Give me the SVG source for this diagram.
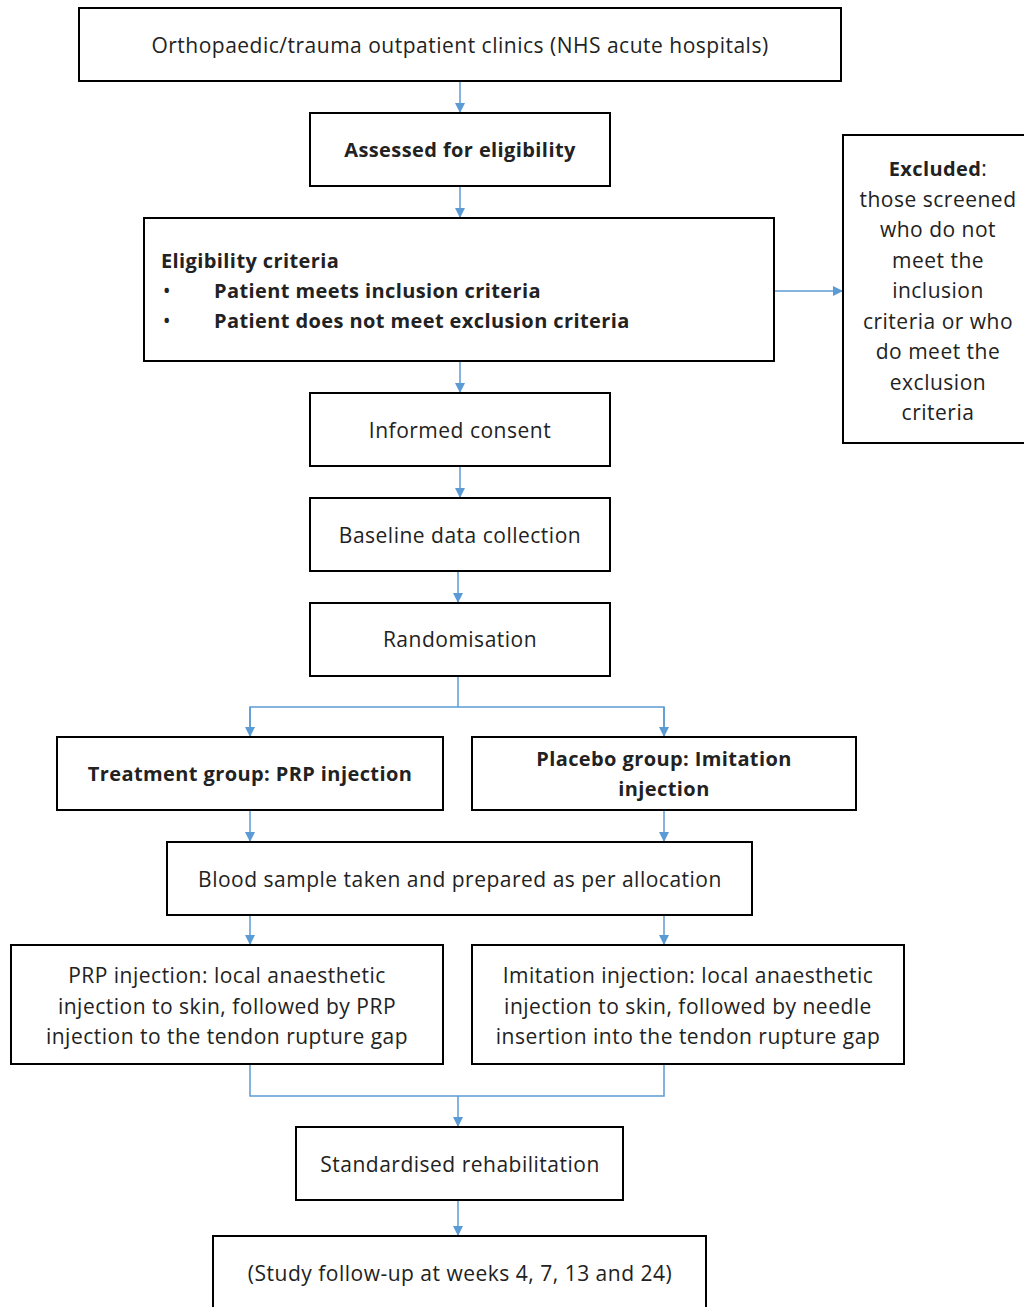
<svg xmlns="http://www.w3.org/2000/svg" width="1024" height="1307" viewBox="0 0 1024 1307">
<style>
.box{fill:#fff;stroke:#000;stroke-width:2}
.t{font-family:"Open Sans","Liberation Sans",sans-serif;font-size:21px;letter-spacing:0.5px;fill:#222;text-anchor:middle}
.b{font-weight:bold;font-size:20px;letter-spacing:0.4px}
.c{fill:none;stroke:#5b9bd5;stroke-width:1.5}
</style>
<defs>
<marker id="ah" markerWidth="10" markerHeight="10" refX="9" refY="5" orient="auto" markerUnits="userSpaceOnUse">
<path d="M0,0 L10,5 L0,10 z" fill="#5b9bd5"/>
</marker>
</defs>
<rect width="1024" height="1307" fill="#fff"/>
<g id="connectors">
<line class="c" x1="460" y1="81" x2="460" y2="112" marker-end="url(#ah)"/>
<line class="c" x1="460" y1="186" x2="460" y2="217" marker-end="url(#ah)"/>
<line class="c" x1="774" y1="291" x2="842" y2="291" marker-end="url(#ah)"/>
<line class="c" x1="460" y1="361" x2="460" y2="392" marker-end="url(#ah)"/>
<line class="c" x1="460" y1="466" x2="460" y2="497" marker-end="url(#ah)"/>
<line class="c" x1="458" y1="571" x2="458" y2="602" marker-end="url(#ah)"/>
<polyline class="c" points="458,676 458,707"/>
<polyline class="c" points="250,736 250,707 664,707 664,736"/>
<line class="c" x1="250" y1="707" x2="250" y2="736" marker-end="url(#ah)"/>
<line class="c" x1="664" y1="707" x2="664" y2="736" marker-end="url(#ah)"/>
<line class="c" x1="250" y1="810" x2="250" y2="841" marker-end="url(#ah)"/>
<line class="c" x1="664" y1="810" x2="664" y2="841" marker-end="url(#ah)"/>
<line class="c" x1="250" y1="915" x2="250" y2="944" marker-end="url(#ah)"/>
<line class="c" x1="664" y1="915" x2="664" y2="944" marker-end="url(#ah)"/>
<polyline class="c" points="250,1064 250,1096 664,1096 664,1064"/>
<line class="c" x1="458" y1="1096" x2="458" y2="1126" marker-end="url(#ah)"/>
<line class="c" x1="458" y1="1200" x2="458" y2="1235" marker-end="url(#ah)"/>
</g>
<g id="n1"><rect class="box" x="79" y="8" width="762" height="73"/><text class="t" x="460" y="53">Orthopaedic/trauma outpatient clinics (NHS acute hospitals)</text></g>
<g id="n2"><rect class="box" x="310" y="113" width="300" height="73"/><text class="t b" x="460" y="157">Assessed for eligibility</text></g>
<g id="n3"><rect class="box" x="144" y="218" width="630" height="143"/>
<text class="t b" x="161" y="268" style="text-anchor:start">Eligibility criteria</text>
<text class="t" x="167" y="298">•</text>
<text class="t b" x="214" y="298" style="text-anchor:start">Patient meets inclusion criteria</text>
<text class="t" x="167" y="328">•</text>
<text class="t b" x="214" y="328" style="text-anchor:start">Patient does not meet exclusion criteria</text>
</g>
<g id="excluded"><rect class="box" x="843" y="135" width="185" height="308"/>
<text class="t" x="938" y="176"><tspan class="b">Excluded</tspan>:</text>
<text class="t" x="938" y="207">those screened</text>
<text class="t" x="938" y="237">who do not</text>
<text class="t" x="938" y="268">meet the</text>
<text class="t" x="938" y="298">inclusion</text>
<text class="t" x="938" y="329">criteria or who</text>
<text class="t" x="938" y="359">do meet the</text>
<text class="t" x="938" y="390">exclusion</text>
<text class="t" x="938" y="420">criteria</text>
</g>
<g id="n4"><rect class="box" x="310" y="393" width="300" height="73"/><text class="t" x="460" y="438">Informed consent</text></g>
<g id="n5"><rect class="box" x="310" y="498" width="300" height="73"/><text class="t" x="460" y="543">Baseline data collection</text></g>
<g id="n6"><rect class="box" x="310" y="603" width="300" height="73"/><text class="t" x="460" y="647">Randomisation</text></g>
<g id="n7"><rect class="box" x="57" y="737" width="386" height="73"/><text class="t b" x="250" y="781">Treatment group: PRP injection</text></g>
<g id="n8"><rect class="box" x="472" y="737" width="384" height="73"/><text class="t b" x="664" y="766">Placebo group: Imitation</text><text class="t b" x="664" y="796">injection</text></g>
<g id="n9"><rect class="box" x="167" y="842" width="585" height="73"/><text class="t" x="460" y="887">Blood sample taken and prepared as per allocation</text></g>
<g id="n10"><rect class="box" x="11" y="945" width="432" height="119"/>
<text class="t" x="227" y="983">PRP injection: local anaesthetic</text>
<text class="t" x="227" y="1014">injection to skin, followed by PRP</text>
<text class="t" x="227" y="1044">injection to the tendon rupture gap</text></g>
<g id="n11"><rect class="box" x="472" y="945" width="432" height="119"/>
<text class="t" x="688" y="983">Imitation injection: local anaesthetic</text>
<text class="t" x="688" y="1014">injection to skin, followed by needle</text>
<text class="t" x="688" y="1044">insertion into the tendon rupture gap</text></g>
<g id="n12"><rect class="box" x="296" y="1127" width="327" height="73"/><text class="t" x="460" y="1172">Standardised rehabilitation</text></g>
<g id="n13"><rect class="box" x="213" y="1236" width="493" height="80"/><text class="t" x="460" y="1281">(Study follow-up at weeks 4, 7, 13 and 24)</text></g>
</svg>
